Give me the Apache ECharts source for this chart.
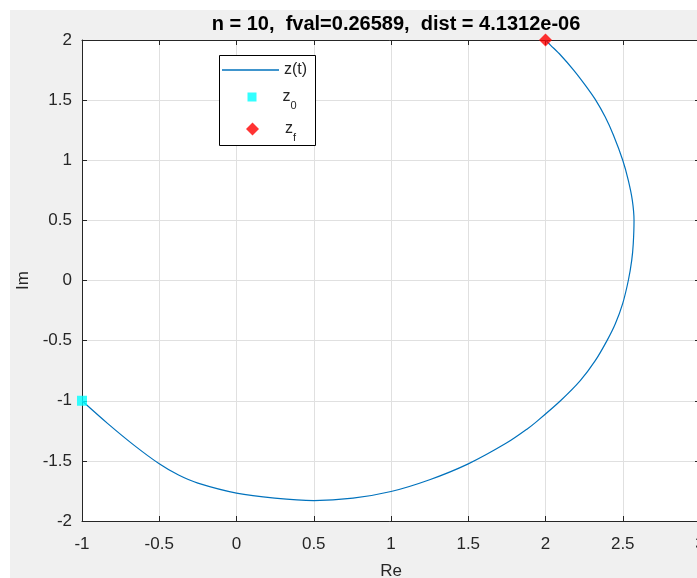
<!DOCTYPE html>
<html>
<head>
<meta charset="utf-8">
<script src="https://cdn.jsdelivr.net/npm/echarts@6/dist/echarts.min.js"></script>
<style>
  body { margin: 0; background: #fff; overflow: hidden; }
  #bg { position: absolute; left: 10px; top: 10px; width: 687px; height: 568px; background: #f0f0f0; }
  #main { position: absolute; left: 0; top: 0; width: 697px; height: 578px; }
</style>
</head>
<body>
<div id="bg"></div>
<div id="main"></div>
<script>
// curve z(t)
var curveRe = [-1, -0.833, -0.66, -0.5, -0.375, -0.25, 0, 0.247, 0.5, 0.754, 1.0, 1.25, 1.5, 1.747, 1.882, 1.95, 2.097, 2.225, 2.322, 2.398, 2.452, 2.5, 2.536, 2.558, 2.568, 2.573, 2.562, 2.536, 2.5, 2.44, 2.386, 2.322, 2.257, 2.182, 2.097, 2.032, 2.0];
var curveIm = [-1, -1.19, -1.373, -1.524, -1.618, -1.685, -1.768, -1.81, -1.83, -1.81, -1.755, -1.657, -1.525, -1.352, -1.234, -1.165, -1.0, -0.833, -0.667, -0.5, -0.36, -0.19, 0.0, 0.167, 0.306, 0.5, 0.667, 0.833, 1.0, 1.208, 1.361, 1.506, 1.625, 1.75, 1.875, 1.958, 2.0];
var startPt = [-1, -1];
var endPt = [2, 2];
var xTicks = { min: -1, max: 3, step: 0.5 };
var yTicks = { min: -2, max: 2, step: 0.5 };
var titleText = 'n = 10,  fval=0.26589,  dist = 4.1312e-06';

var curve = [];
for (var i = 0; i < curveRe.length; i++) {
    curve.push([curveRe[i], curveIm[i]]);
}

var chart = echarts.init(document.getElementById('main'));

var axisCol = '#262626';
var gridCol = '#e0e0e0';
var font = 'Liberation Sans, Arial, sans-serif';

var subRich = {
    z: { fontSize: 16, fontFamily: font, color: axisCol, lineHeight: 16, verticalAlign: 'top', padding: [0, 0, 0, 21] },
    s: { fontSize: 11, fontFamily: font, color: axisCol, lineHeight: 12, verticalAlign: 'top', padding: [11, 0, 0, 0] }
};

function valueAxis(pos, t, isX, showLabel) {
    return {
        type: 'value',
        position: pos,
        min: t.min, max: t.max, interval: t.step,
        axisLine: { show: true, onZero: false, lineStyle: { color: axisCol, width: 1 } },
        axisTick: { show: true, inside: true, length: 5, lineStyle: { color: axisCol } },
        axisLabel: { show: showLabel, color: axisCol, fontSize: 17, fontFamily: font, margin: isX ? 15 : 10 },
        splitLine: { show: showLabel, lineStyle: { color: gridCol, width: 1 } }
    };
}

var xMain = valueAxis('bottom', xTicks, true, true);
xMain.name = 'Re';
xMain.nameLocation = 'middle';
xMain.nameGap = 42;
xMain.nameTextStyle = { fontSize: 17, color: axisCol, fontFamily: font };
var yMain = valueAxis('left', yTicks, false, true);
yMain.name = 'Im';
yMain.nameLocation = 'middle';
yMain.nameGap = 46;
yMain.nameTextStyle = { fontSize: 17, color: axisCol, fontFamily: font };

var option = {
    animation: false,
    title: {
        text: titleText,
        left: 391,
        textAlign: 'center',
        top: 9,
        textStyle: { fontSize: 20, fontWeight: 'bold', color: '#000', fontFamily: font }
    },
    grid: {
        left: 82, top: 40, width: 618, height: 481,
        outerBoundsMode: 'none', containLabel: false,
        show: true, backgroundColor: '#fff', borderWidth: 0
    },
    xAxis: [xMain, valueAxis('top', xTicks, true, false)],
    yAxis: [yMain, valueAxis('right', yTicks, false, false)],
    graphic: [{
        type: 'rect', z: 3,
        shape: { x: 219.5, y: 55.5, width: 96, height: 90 },
        style: { fill: '#fff', stroke: '#000', lineWidth: 1 }
    }],
    legend: [{
        data: ['z(t)'], selectedMode: false, left: 222, top: 62, padding: 0,
        icon: 'rect', itemWidth: 57, itemHeight: 1.5,
        textStyle: { fontSize: 16, color: axisCol, fontFamily: font }
    }, {
        data: ['z0'], selectedMode: false, left: 247.5, top: 89, padding: 0,
        icon: 'rect', itemWidth: 9, itemHeight: 9,
        formatter: function () { return '{z|z}{s|0}'; },
        textStyle: { rich: subRich }
    }, {
        data: ['zf'], selectedMode: false, left: 246, top: 121, padding: 0,
        icon: 'diamond', itemWidth: 13, itemHeight: 13,
        formatter: function () { return '{z|z}{s|f}'; },
        textStyle: { rich: subRich }
    }],
    series: [{
        name: 'z(t)',
        type: 'line',
        data: curve,
        smooth: 0.3,
        symbol: 'none',
        lineStyle: { color: '#0072bd', width: 1.2 },
        itemStyle: { color: '#0072bd' },
        z: 2
    }, {
        name: 'z0',
        type: 'scatter',
        data: [startPt],
        symbol: 'rect',
        symbolSize: 10,
        clip: false,
        itemStyle: { color: '#00ffff' },
        z: 3
    }, {
        name: 'zf',
        type: 'scatter',
        data: [endPt],
        symbol: 'diamond',
        symbolSize: 13,
        clip: false,
        itemStyle: { color: '#ff0000' },
        z: 3
    }]
};

chart.setOption(option);
</script>
</body>
</html>
